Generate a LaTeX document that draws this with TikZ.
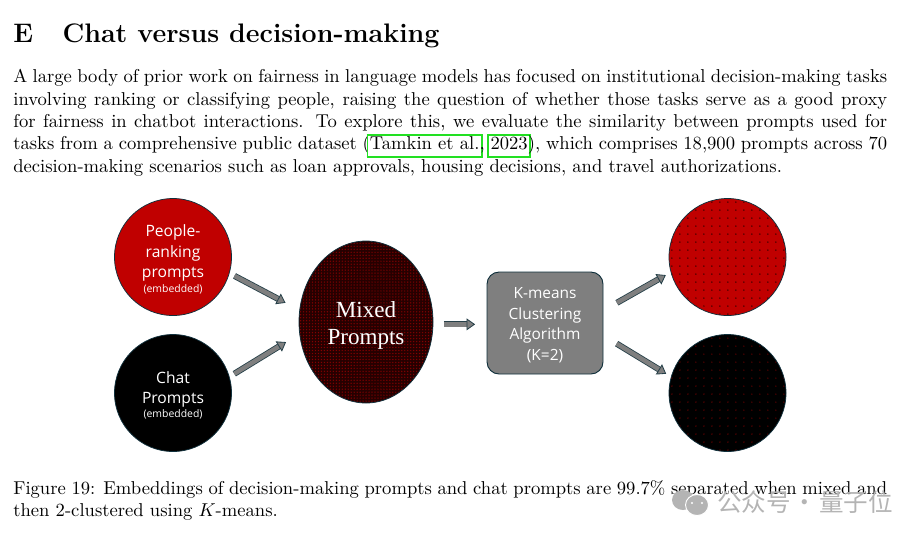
\documentclass[tikz,border=0pt]{standalone}
\usepackage{fontspec}
\newfontfamily\labelfont{Open Sans}
\newfontfamily\mixedfont{Liberation Serif}
\newfontfamily\markfont{Noto Sans CJK SC}
\usetikzlibrary{shapes.geometric, arrows.meta, patterns.meta}
\definecolor{linkgreen}{HTML}{22E022}
\definecolor{edgeblue}{HTML}{10303C}
\definecolor{arrowgray}{HTML}{7F7F7F}
\definecolor{rankred}{HTML}{C00000}
\definecolor{markgray}{HTML}{B4B4B4}
\newcommand{\citelink}[1]{\setlength{\fboxsep}{0.8pt}\setlength{\fboxrule}{1pt}\kern-1.8pt\fcolorbox{linkgreen}{white}{\rule[-2.5pt]{0pt}{9pt}#1}\kern-1.8pt}
\tikzstyle{textblock} = [anchor=north west, inner sep=0pt, text width=469.75pt, align=justify]
\tikzstyle{disc} = [circle, minimum size=117*0.5376pt, inner sep=0pt, outer sep=0pt, draw=edgeblue, line width=0.4pt, text=white, align=center, font=\labelfont\fontsize{8.4}{11}\selectfont]
\tikzstyle{rankdisc} = [disc, fill=rankred]
\tikzstyle{chatdisc} = [disc, fill=black]
\tikzstyle{reddots} = [disc, preaction={fill=rankred}, pattern={Dots[distance=4.3pt, radius=0.45pt]}, pattern color=black!60!rankred]
\tikzstyle{blackdots} = [disc, preaction={fill=black}, pattern={Dots[distance=4.3pt, radius=0.35pt]}, pattern color=rankred!70!black]
\tikzstyle{mixed} = [ellipse, minimum width=134*0.5376pt, minimum height=162*0.5376pt, inner sep=0pt, outer sep=0pt, draw=edgeblue, line width=0.4pt, preaction={fill=black!80!rankred}, pattern={Dots[distance=1.6pt, radius=0.38pt]}, pattern color=rankred!70!black, text=white, align=center, font=\mixedfont\fontsize{12.4}{14.5}\selectfont]
\tikzstyle{algo} = [rectangle, rounded corners=6.5pt, minimum width=116*0.5376pt, minimum height=102*0.5376pt, inner sep=0pt, outer sep=0pt, draw=edgeblue, line width=0.5pt, fill=arrowgray, text=white, align=center, font=\labelfont\fontsize{8.3}{11}\selectfont]
\tikzstyle{blockarrow} = [draw=edgeblue!80!arrowgray, line width=0.45pt, double=arrowgray, double distance=2.4pt, -{Triangle[length=4.6pt, width=6.4pt, fill=arrowgray]}]
\tikzstyle{blob} = [ellipse, fill=markgray, inner sep=0pt]
\tikzstyle{eye} = [circle, fill=white, minimum size=1.3pt, inner sep=0pt]
\begin{document}
\begin{tikzpicture}[x=0.5376pt, y=-0.5376pt]
\useasboundingbox (0,0) rectangle (924,538);
% text
\node [anchor=north west, inner sep=0pt, font=\Large\bfseries] at (13,23) (title) {E\hspace{15.8pt}Chat versus decision-making};
\node [textblock] at (13,69.3) (para) {A large body of prior work on fairness in language models has focused on institutional decision-making tasks involving ranking or classifying people, raising the question of whether those tasks serve as a good proxy for fairness in chatbot interactions. To explore this, we evaluate the similarity between prompts used for tasks from a comprehensive public dataset (\citelink{Tamkin et al.}, \citelink{2023}), which comprises 18,900 prompts across 70 decision-making scenarios such as loan approvals, housing decisions, and travel authorizations.};
\node [textblock] at (13,480) (caption) {Figure 19: Embeddings of decision-making prompts and chat prompts are 99.7\% separated when mixed and then 2-clustered using $K$-means.};
% diagram
\node [rankdisc] at (173,257) (people) {\rule{0pt}{9pt}People-\\ranking\\prompts\\[-3.3pt]{\fontsize{5.6}{7}\selectfont (embedded)}};
\node [chatdisc] at (173,393) (chat) {\rule{0pt}{9pt}Chat\\Prompts\\[-3.3pt]{\fontsize{5.6}{7}\selectfont (embedded)}};
\node [mixed] at (366,322) (mix) {\rule{0pt}{12.5pt}Mixed\\Prompts};
\node [algo] at (545,323) (kmeans) {\rule{0pt}{8.2pt}K-means\\Clustering\\Algorithm\\(K=2)};
\node [reddots] at (727.5,257) (redout) {};
\node [blackdots] at (727.5,393) (blackout) {};
\draw [blockarrow, shorten <=3.2pt, shorten >=8.6pt] (people.-16) -- (mix.170);
\draw [blockarrow, shorten <=3.2pt, shorten >=8.6pt] (chat.16) -- (mix.190);
\draw [blockarrow, shorten <=5.9pt, shorten >=6.4pt] (mix.-2.5) -- (mix.-2.5 -| kmeans.west);
\draw [blockarrow, shorten <=8.6pt, shorten >=3.2pt] (kmeans.12) -- (redout.195.7);
\draw [blockarrow, shorten <=8.6pt, shorten >=3.2pt] (kmeans.-12) -- (blackout.164.3);
% watermark
\node [blob, minimum width=22*0.5376pt, minimum height=20*0.5376pt] at (683,500) (bubbleback) {};
\node [blob, draw=white, line width=0.5pt, minimum width=23*0.5376pt, minimum height=21*0.5376pt] at (697,505) (bubblefront) {};
\node [eye] at (692,503) (eyeleft) {};
\node [eye] at (702,503) (eyeright) {};
\node [anchor=west, inner sep=0pt, text=markgray, font=\markfont\fontsize{13.2}{15}\selectfont] at (717,502) (mark) {公众号\hspace{1pt}·\hspace{1pt}量子位};
\end{tikzpicture}
\end{document}
